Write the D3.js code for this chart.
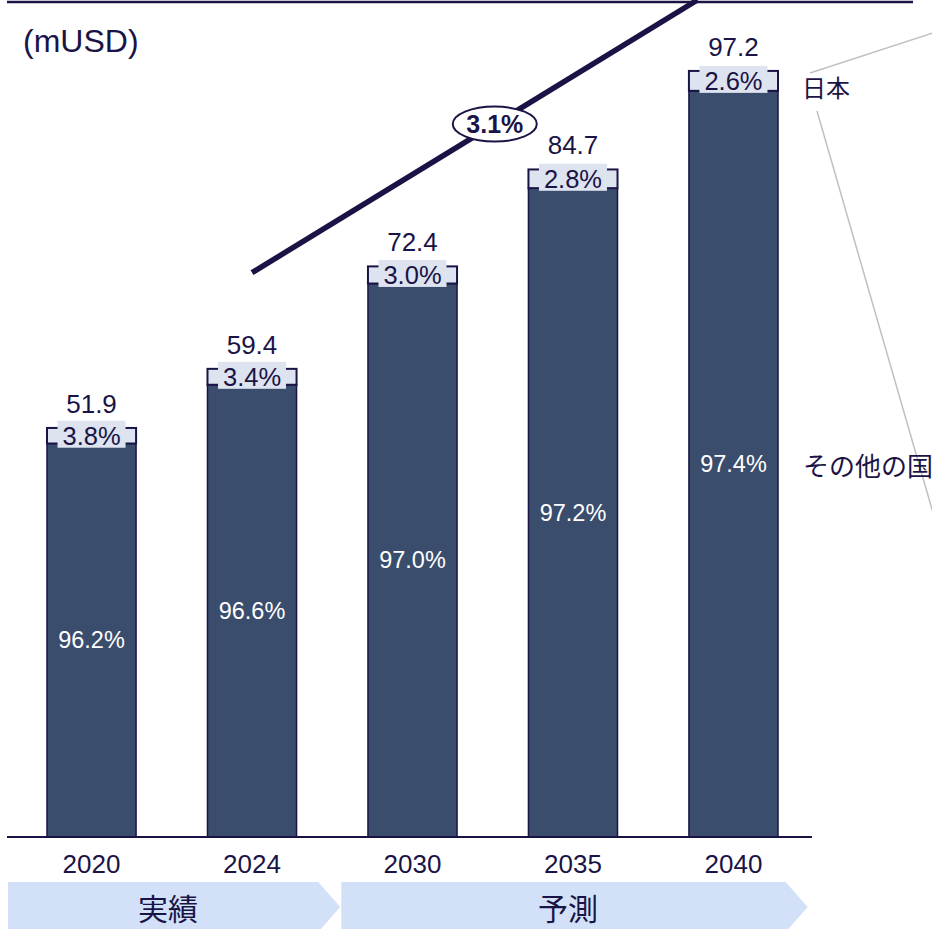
<!DOCTYPE html>
<html>
<head>
<meta charset="utf-8">
<script src="https://cdn.jsdelivr.net/npm/d3@7"></script>
<style>
  html, body { margin: 0; padding: 0; background: #ffffff; }
  svg { display: block; }
  text { font-family: "Liberation Sans", Arial, "Noto Sans CJK JP", sans-serif; }
  .cjk { font-family: "Noto Sans CJK JP", "Liberation Sans", sans-serif; }
</style>
</head>
<body>
<svg id="chart" width="932" height="929"></svg>
<script>
// Market size (mUSD) by year, split into Japan and the rest of the world
const years = ["2020", "2024", "2030", "2035", "2040"];
const totals = [51.9, 59.4, 72.4, 84.7, 97.2];
const japanShare = [3.8, 3.4, 3.0, 2.8, 2.6];
const otherShare = [96.2, 96.6, 97.0, 97.2, 97.4];
const phases = [
  { label: "実績", from: "2020", to: "2024" },
  { label: "予測", from: "2030", to: "2040" }
];
const cagrLabel = "3.1%";
const unitLabel = "(mUSD)";
const seriesLabels = ["日本", "その他の国"];

const W = 932, H = 929;
const ink = "#1a1446";
const barFill = "#3a4d6d";
const japanFill = "#dde3ef";
const phaseFill = "#d3e1f8";

const svg = d3.select("#chart");

const x = d3.scaleBand().domain(years).range([47, 778]).paddingInner(0.445).paddingOuter(0);
const y = d3.scaleLinear().domain([0, 106.2]).range([837, 0]);
const cx = d => x(d) + x.bandwidth() / 2;

const rows = years.map((yr, i) => ({
  year: yr,
  total: totals[i],
  jp: totals[i] * japanShare[i] / 100,
  jpPct: japanShare[i],
  otPct: otherShare[i]
}));

// top rule
svg.append("line").attr("x1", 7).attr("x2", 913).attr("y1", 2).attr("y2", 2)
  .attr("stroke", ink).attr("stroke-width", 2.5);

// unit label
svg.append("text").attr("x", 23).attr("y", 52).attr("font-size", 32).attr("fill", ink).text(unitLabel);

// rest-of-world segments
svg.append("g").selectAll("rect").data(rows).join("rect")
  .attr("x", d => x(d.year)).attr("width", x.bandwidth())
  .attr("y", d => y(d.total - d.jp)).attr("height", d => y(0) - y(d.total - d.jp))
  .attr("fill", barFill).attr("stroke", ink).attr("stroke-width", 1.5);

// Japan segments
svg.append("g").selectAll("rect").data(rows).join("rect")
  .attr("x", d => x(d.year)).attr("width", x.bandwidth())
  .attr("y", d => y(d.total)).attr("height", d => y(d.total - d.jp) - y(d.total))
  .attr("fill", japanFill).attr("stroke", ink).attr("stroke-width", 2);

// baseline
svg.append("line").attr("x1", 7).attr("x2", 812).attr("y1", y(0)).attr("y2", y(0))
  .attr("stroke", ink).attr("stroke-width", 2);

// Japan share labels with background boxes
const jpLab = svg.append("g").selectAll("g").data(rows).join("g")
  .attr("transform", d => `translate(${cx(d.year)},${(y(d.total) + y(d.total - d.jp)) / 2})`);
jpLab.append("rect").attr("x", -34).attr("y", -15).attr("width", 68).attr("height", 27).attr("fill", japanFill);
jpLab.append("text").attr("text-anchor", "middle").attr("dy", "0.36em")
  .attr("font-size", 25.5).attr("fill", ink).text(d => d.jpPct.toFixed(1) + "%");

// rest-of-world share labels
svg.append("g").selectAll("text").data(rows).join("text")
  .attr("x", d => cx(d.year)).attr("y", d => (y(0) + y(d.total - d.jp)) / 2)
  .attr("dy", "0.35em").attr("text-anchor", "middle")
  .attr("font-size", 23.5).attr("fill", "#ffffff").text(d => d.otPct.toFixed(1) + "%");

// total labels
svg.append("g").selectAll("text").data(rows).join("text")
  .attr("x", d => cx(d.year)).attr("y", d => y(d.total) - 15)
  .attr("text-anchor", "middle").attr("font-size", 26).attr("fill", ink).text(d => d.total.toFixed(1));

// year axis labels
svg.append("g").selectAll("text").data(years).join("text")
  .attr("x", d => cx(d)).attr("y", 873)
  .attr("text-anchor", "middle").attr("font-size", 26).attr("fill", ink).text(d => d);

// CAGR trend line and badge
const cagrStart = [cx("2024"), y(71.6)];
const cagrEnd = [cx("2040") - 36, y(106.2)];
svg.append("line").attr("x1", cagrStart[0]).attr("y1", cagrStart[1])
  .attr("x2", cagrEnd[0]).attr("y2", cagrEnd[1])
  .attr("stroke", ink).attr("stroke-width", 5.5);
const t = 0.545;
const bx = cagrStart[0] + (cagrEnd[0] - cagrStart[0]) * t;
const by = cagrStart[1] + (cagrEnd[1] - cagrStart[1]) * t;
svg.append("ellipse").attr("cx", bx).attr("cy", by).attr("rx", 42).attr("ry", 17.5)
  .attr("fill", "#ffffff").attr("stroke", ink).attr("stroke-width", 2);
svg.append("text").attr("x", bx).attr("y", by).attr("dy", "0.36em").attr("text-anchor", "middle")
  .attr("font-size", 25).attr("font-weight", "bold").attr("fill", ink).text(cagrLabel);

// series labels on the right with leader lines
const jpY = (y(97.2) + y(97.2 - 97.2 * 0.026)) / 2;
svg.append("line").attr("x1", 810).attr("y1", 73).attr("x2", 940).attr("y2", 30.6)
  .attr("stroke", "#c0c0c0").attr("stroke-width", 1.5);
svg.append("line").attr("x1", 817).attr("y1", 111).attr("x2", 938).attr("y2", 530)
  .attr("stroke", "#c0c0c0").attr("stroke-width", 1.5);
svg.append("text").attr("class", "cjk").attr("x", 802).attr("y", jpY + 8)
  .attr("dy", "0.35em").attr("font-size", 24).attr("fill", ink).text(seriesLabels[0]);
svg.append("text").attr("class", "cjk").attr("x", 803).attr("y", 467)
  .attr("dy", "0.35em").attr("font-size", 26).attr("fill", ink).text(seriesLabels[1]);

// phase chevrons: each chevron's tip reaches the start of the next one
const step = x.step();
const tip = 22;
const phaseBox = phases.map((d, i) => ({
  ...d,
  left: i === 0 ? 8 : cx(d.from) - step / 2 + 9
}));
phaseBox.forEach((d, i) => {
  d.right = i < phaseBox.length - 1 ? phaseBox[i + 1].left - 1 - tip : cx(d.to) + step / 2 - 28;
});
const phaseG = svg.append("g").selectAll("g").data(phaseBox).join("g");
phaseG.append("path").attr("fill", phaseFill).attr("d", d => {
  const top = 882, bot = 932, mid = (top + bot) / 2;
  return `M${d.left},${top}H${d.right}L${d.right + tip},${mid}L${d.right},${bot}H${d.left}Z`;
});
phaseG.append("text").attr("class", "cjk")
  .attr("x", (d, i) => i === 0 ? 168 : 568).attr("y", 909).attr("dy", "0.35em")
  .attr("text-anchor", "middle").attr("font-size", 30).attr("fill", ink).text(d => d.label);
</script>
</body>
</html>
